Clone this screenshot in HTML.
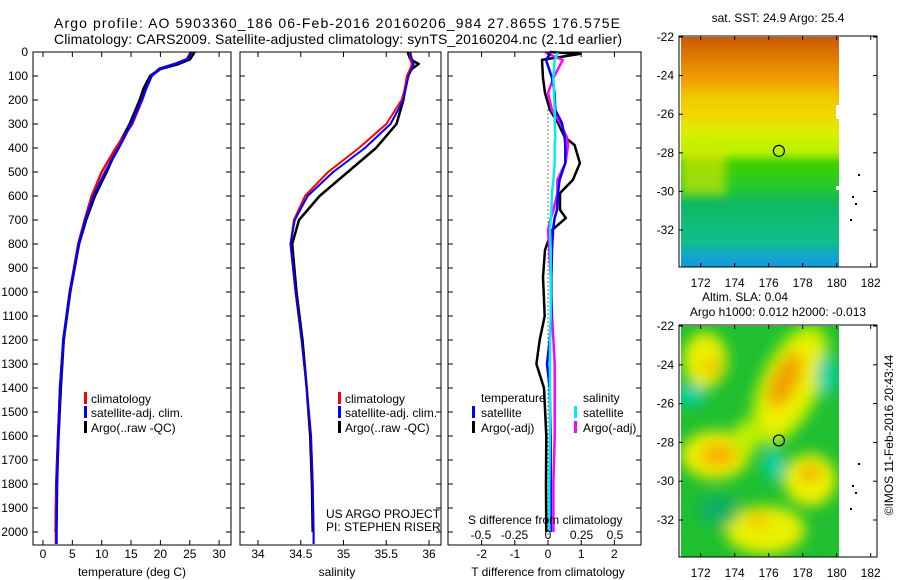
<!DOCTYPE html>
<html><head><meta charset="utf-8"><style>
html,body{margin:0;padding:0;background:#fff;}
svg{display:block;font-family:"Liberation Sans",sans-serif;}
text{fill:#000;}
</style></head><body>
<svg id="c" width="900" height="580" viewBox="0 0 900 580" xmlns="http://www.w3.org/2000/svg">
<defs>
<linearGradient id="sstg" x1="0" y1="0" x2="0" y2="1">
<stop offset="0" stop-color="#c85a00"/><stop offset="0.1" stop-color="#e08000"/>
<stop offset="0.22" stop-color="#f5aa00"/><stop offset="0.32" stop-color="#f8d000"/>
<stop offset="0.42" stop-color="#d8f000"/><stop offset="0.5" stop-color="#b8f000"/>
<stop offset="0.55" stop-color="#40d000"/><stop offset="0.66" stop-color="#20c830"/>
<stop offset="0.72" stop-color="#10b860"/><stop offset="0.9" stop-color="#10c090"/>
<stop offset="1" stop-color="#1090e0"/></linearGradient>
<filter id="bl" x="-50%" y="-50%" width="200%" height="200%"><feGaussianBlur stdDeviation="7"/></filter>
<filter id="bl2" x="-50%" y="-50%" width="200%" height="200%"><feGaussianBlur stdDeviation="5"/></filter>
<clipPath id="slaclip"><rect x="681" y="326" width="158" height="231"/></clipPath>
<clipPath id="sstclip"><rect x="681" y="37" width="158" height="230"/></clipPath>
</defs>
<g id="profiles"></g>
<g id="maps">
<rect x="681" y="37" width="158" height="230" fill="url(#sstg)"/>
<g clip-path="url(#sstclip)" filter="url(#bl2)">
<rect x="681" y="150" width="45" height="45" fill="#e8e800" opacity="0.6"/>
<rect x="681" y="90" width="158" height="20" fill="#e0e000" opacity="0.4"/>
<rect x="681" y="250" width="158" height="20" fill="#10a0e0" opacity="0.5"/>
</g>
<rect x="836" y="105" width="4" height="14" fill="#fff"/>
<rect x="836" y="186" width="4" height="4" fill="#fff"/>
<g clip-path="url(#slaclip)">
<rect x="681" y="326" width="158" height="231" fill="#20c030"/>
<g filter="url(#bl)">
<ellipse cx="790" cy="385" rx="30" ry="65" transform="rotate(25 790 385)" fill="#b8f000"/>
<ellipse cx="790" cy="385" rx="22" ry="52" transform="rotate(25 790 385)" fill="#f0f000"/>
<ellipse cx="785" cy="380" rx="13" ry="30" transform="rotate(25 785 380)" fill="#f0a000"/>
<ellipse cx="715" cy="455" rx="34" ry="24" fill="#f0f000"/>
<ellipse cx="718" cy="455" rx="18" ry="12" fill="#f8b000"/>
<ellipse cx="705" cy="360" rx="22" ry="28" fill="#e8f000"/>
<ellipse cx="712" cy="368" rx="8" ry="10" fill="#f0c000"/>
<ellipse cx="810" cy="480" rx="26" ry="26" fill="#f0f000"/>
<ellipse cx="810" cy="473" rx="9" ry="9" fill="#f0a000"/>
<ellipse cx="765" cy="530" rx="40" ry="24" fill="#e8f000"/>
<ellipse cx="758" cy="520" rx="10" ry="8" fill="#f8c000"/>
<ellipse cx="745" cy="440" rx="12" ry="20" fill="#c0f000"/>
<ellipse cx="690" cy="395" rx="16" ry="10" fill="#00d0b0"/>
<ellipse cx="827" cy="375" rx="10" ry="20" fill="#00d0b0"/>
<ellipse cx="774" cy="465" rx="10" ry="16" fill="#00d0b0"/>
<ellipse cx="718" cy="510" rx="22" ry="16" fill="#10b060"/>
</g></g>
</g>
<g id="overlay"></g>
</svg>
<script>
// ---- data ----
const depthTicks = [0,100,200,300,400,500,600,700,800,900,1000,1100,1200,1300,1400,1500,1600,1700,1800,1900,2000];
const profDepth = [0,30,50,70,100,150,200,300,400,500,600,700,800,1000,1200,1400,1600,1800,2000,2050];
const tempClim = [25.2,24.5,22.4,19.8,18.5,17.6,16.9,15.2,12.4,10.0,8.3,7.1,6.0,4.6,3.5,2.9,2.6,2.3,2.2,2.2];
const tempSat  = [25.5,24.6,22.5,19.8,18.5,17.6,16.8,15.0,12.9,10.6,8.6,7.2,6.1,4.6,3.5,2.9,2.6,2.4,2.3,2.3];
const tempArgo = [25.8,25.0,23.0,20.0,18.3,17.2,16.5,14.8,12.6,10.8,8.8,7.3,6.1,4.6,3.5,3.0,2.6,2.3,2.2];
const salClim = [35.78,35.78,35.8,35.78,35.74,35.72,35.68,35.50,35.18,34.82,34.55,34.42,34.38,34.44,34.51,34.57,34.62,34.64,34.65,34.65];
const salSat  = [35.78,35.8,35.82,35.8,35.76,35.73,35.7,35.55,35.25,34.88,34.58,34.43,34.38,34.44,34.51,34.57,34.62,34.64,34.65,34.65];
const salArgo = [35.75,35.78,35.88,35.8,35.75,35.72,35.7,35.62,35.38,35.05,34.72,34.48,34.40,34.45,34.52,34.57,34.61,34.63,34.64];
const diffDepth = [0,8,33,108,171,242,296,354,388,463,533,588,658,692,742,825,938,1100,1200,1300,1400,1600,1800,2000];
const dTArgo = [0.05,0.96,-0.18,-0.15,-0.09,0.06,0.3,0.5,0.8,0.96,0.75,0.36,0.36,0.54,0.12,-0.09,-0.15,-0.1,-0.25,-0.35,-0.12,-0.05,-0.06,-0.05];
const dTSat  = [0.06,0.06,-0.06,0.12,0.2,0.22,0.42,0.5,0.52,0.52,0.35,0.3,0.27,0.2,0.15,0.12,0.1,0.1,0.05,-0.03,0.05,0.08,0.08,0.08];
const dSSat  = [0.07,0.07,0.05,0.04,0.045,0.05,0.05,0.055,0.05,0.05,0.04,0.03,0.025,0.02,0.015,0.02,0.02,0.02,0.015,0.015,0.015,0.015,0.01,0.01];
const dSArgo = [-0.02,0.0,0.11,0.04,0.0,0.03,0.09,0.14,0.15,0.13,0.07,0.07,0.04,0.02,0.0,0.01,0.02,0.03,0.04,0.05,0.05,0.05,0.04,0.04];
const tempTicks = [0,5,10,15,20,25,30];
const salTicks = [34,34.5,35,35.5,36];
const salTickLabels = ["34","34.5","35","35.5","36"];
const dTTicks = [-2,-1,0,1,2];
const dSTicks = [-0.5,-0.25,0,0.25,0.5];
const dSTickLabels = ["-0.5","-0.25","0","0.25","0.5"];
const lonTicks = [172,174,176,178,180,182];
const latTicks = [-22,-24,-26,-28,-30,-32];

// ---- scales ----
const NS="http://www.w3.org/2000/svg";
const yD = d => 52 + d*0.24;
const xT = t => 43 + t*5.87;
const xS = s => 258 + (s-34)*85.5;
const xdT = v => 548 + v*33.2;
const xdS = v => 548 + v*134;
const xLon = l => 700.7 + (l-172)*17;
const yLat1 = l => 37 + (-22-l)*19.3;
const yLat2 = l => 326 + (-22-l)*19.4;
const P = document.getElementById('profiles');
const O = document.getElementById('overlay');
function mk(tag, attrs, parent, txt){const e=document.createElementNS(NS,tag);for(const k in attrs)e.setAttribute(k,attrs[k]);if(txt!==undefined)e.textContent=txt;parent.appendChild(e);return e;}
function line(xs, ds, xf, color, w, name){
  let p='';for(let i=0;i<xs.length;i++){p+=(i?'L':'M')+xf(xs[i]).toFixed(1)+' '+yD(ds[i]).toFixed(1);}
  const e=mk('path',{d:p,fill:'none',stroke:color,'stroke-width':w,'stroke-linejoin':'round'},P);
  
  
}
function frame(x0,x1,name){
  const r=mk('rect',{x:x0,y:52,width:x1-x0,height:493,fill:'none',stroke:'#000','stroke-width':1},O);
  
  
  depthTicks.forEach(d=>{mk('line',{x1:x0,x2:x0+5,y1:yD(d),y2:yD(d),stroke:'#000'},O);mk('line',{x1:x1-5,x2:x1,y1:yD(d),y2:yD(d),stroke:'#000'},O);});
}
function xticks(vals,labels,xf,y0,ly,name){
  vals.forEach((v,i)=>{const x=xf(v);mk('line',{x1:x,x2:x,y1:545,y2:540,stroke:'#000'},O);if(y0)mk('line',{x1:x,x2:x,y1:52,y2:57,stroke:'#000'},O);
    const t=mk('text',{x:x,y:ly,'font-size':12,'text-anchor':'middle'},O,labels[i]);
    
    });
}
// series
line(tempArgo, profDepth.slice(0,tempArgo.length), xT, '#000', 3, 'temp-argo-line');
line(tempClim, profDepth, xT, '#f00', 2.5, 'temp-clim-line');
line(tempSat, profDepth, xT, '#00f', 2.5, 'temp-sat-line');
line(salArgo, profDepth.slice(0,salArgo.length), xS, '#000', 2.5, 'sal-argo-line');
line(salClim, profDepth, xS, '#f00', 2, 'sal-clim-line');
line(salSat, profDepth, xS, '#00f', 2, 'sal-sat-line');
mk('line',{x1:548,x2:548,y1:yD(240),y2:545,stroke:'#000','stroke-dasharray':'1 3'},P);
line(dTArgo, diffDepth, xdT, '#000', 2.5, 'dT-argo-line');
line(dSArgo, diffDepth, xdS, '#f0f', 2.5, 'dS-argo-line');
line(dTSat, diffDepth, xdT, '#00f', 2.5, 'dT-sat-line');
line(dSSat, diffDepth, xdS, '#0ee', 2.5, 'dS-sat-line');
// frames & ticks
frame(33,231,'temperature-panel');frame(240,441,'salinity-panel');frame(448,641,'difference-panel');
depthTicks.forEach(d=>{const t=mk('text',{x:28,y:yD(d)+4,'font-size':12,'text-anchor':'end'},O,String(d));
  
  });
xticks(tempTicks,tempTicks.map(String),xT,true,558,'temp-tick-label');
xticks(salTicks,salTickLabels,xS,true,558,'sal-tick-label');
xticks(dTTicks,dTTicks.map(String),xdT,true,558,'dT-tick-label');
dSTicks.forEach((v,i)=>{const t=mk('text',{x:xdS(v),y:539,'font-size':12,'text-anchor':'middle'},O,dSTickLabels[i]);
  
  });
// map axes
function mapAxes(y0,y1,yl,lonY,name){
  const r=mk('rect',{x:679,y:y0,width:198,height:y1-y0,fill:'none',stroke:'#000'},O);
  
  
  lonTicks.forEach(l=>{const x=xLon(l);mk('line',{x1:x,x2:x,y1:y0,y2:y0+4,stroke:'#000'},O);mk('line',{x1:x,x2:x,y1:y1,y2:y1-4,stroke:'#000'},O);
    const t=mk('text',{x:x,y:lonY,'font-size':12,'text-anchor':'middle'},O,String(l));
    
    });
  latTicks.forEach(l=>{const y=yl(l);mk('line',{x1:679,x2:683,y1:y,y2:y,stroke:'#000'},O);mk('line',{x1:873,x2:877,y1:y,y2:y,stroke:'#000'},O);
    const t=mk('text',{x:674,y:y+4,'font-size':12,'text-anchor':'end'},O,String(l));
    
    });
}
mapAxes(36,267,yLat1,287,'sst-map');
mapAxes(325,557,yLat2,577,'sla-map');
[['sst-float-marker',yLat1,'#b8f000'],['sla-float-marker',yLat2,'none']].forEach(m=>{
  const c=mk('circle',{cx:xLon(176.6),cy:m[1](-27.9),r:5.5,fill:m[2],stroke:'#000','stroke-width':1.2},O);
  
  });
[[858,174],[852,196],[855,203],[850,219]].forEach(p=>{mk('rect',{x:p[0],y:p[1],width:2,height:2,fill:'#000'},O);mk('rect',{x:p[0],y:p[1]+289,width:2,height:2,fill:'#000'},O);});
</script>
<script>
(function(){
const NS="http://www.w3.org/2000/svg";const O=document.getElementById('overlay');
function t(x,y,s,txt,name,extra){const e=document.createElementNS(NS,'text');e.setAttribute('x',x);e.setAttribute('y',y);e.setAttribute('font-size',s);
 if(extra)for(const k in extra)e.setAttribute(k,extra[k]);e.textContent=txt;
 
 
 O.appendChild(e);return e;}
function bar(x,y,c){const r=document.createElementNS(NS,'rect');r.setAttribute('x',x);r.setAttribute('y',y);r.setAttribute('width',3);r.setAttribute('height',12);r.setAttribute('fill',c);
 
 
 O.appendChild(r);}
t(54,28,14,'Argo profile: AO 5903360_186 06-Feb-2016 20160206_984 27.865S 176.575E','title-line-1',{textLength:566});
t(54,44,14,'Climatology: CARS2009. Satellite-adjusted climatology: synTS_20160204.nc (2.1d earlier)','title-line-2',{textLength:568});
[[84,91],[338,345]].forEach(p=>{
 bar(p[0],392,'#f00');t(p[1],403,12,'climatology','legend-climatology');
 bar(p[0],406,'#00f');t(p[1],417,12,'satellite-adj. clim.','legend-satellite-adj');
 bar(p[0],421,'#000');t(p[1],432,12,'Argo(..raw -QC)','legend-argo-raw');});
t(481,402,12,'temperature','legend-temperature-header');t(583,402,12,'salinity','legend-salinity-header');
bar(472,406,'#00f');t(481,417,12,'satellite','legend-t-satellite');
bar(472,421,'#000');t(481,432,12,'Argo(-adj)','legend-t-argo');
bar(574,406,'#0ee');t(583,417,12,'satellite','legend-s-satellite');
bar(574,421,'#f0f');t(583,432,12,'Argo(-adj)','legend-s-argo');
t(326,518,12,'US ARGO PROJECT','project-label');t(326,531,12,'PI: STEPHEN RISER','pi-label');
t(468,524,12,'S difference from climatology','s-diff-axis-title');
t(132,576,12,'temperature (deg C)','temperature-axis-title',{'text-anchor':'middle'});
t(337,576,12,'salinity','salinity-axis-title',{'text-anchor':'middle'});
t(548,576,12,'T difference from climatology','t-diff-axis-title',{'text-anchor':'middle'});
t(778,22,12,'sat. SST: 24.9 Argo: 25.4','sst-map-title',{'text-anchor':'middle'});
t(745,301,12,'Altim. SLA: 0.04','sla-map-title',{'text-anchor':'middle'});
t(778,316,12,'Argo h1000: 0.012 h2000: -0.013','sla-height-title',{'text-anchor':'middle'});
t(893,435,12,'©IMOS 11-Feb-2016 20:43:44','imos-credit',{'text-anchor':'middle',transform:'rotate(-90 893 435)'});
})();
</script>
</body></html>
